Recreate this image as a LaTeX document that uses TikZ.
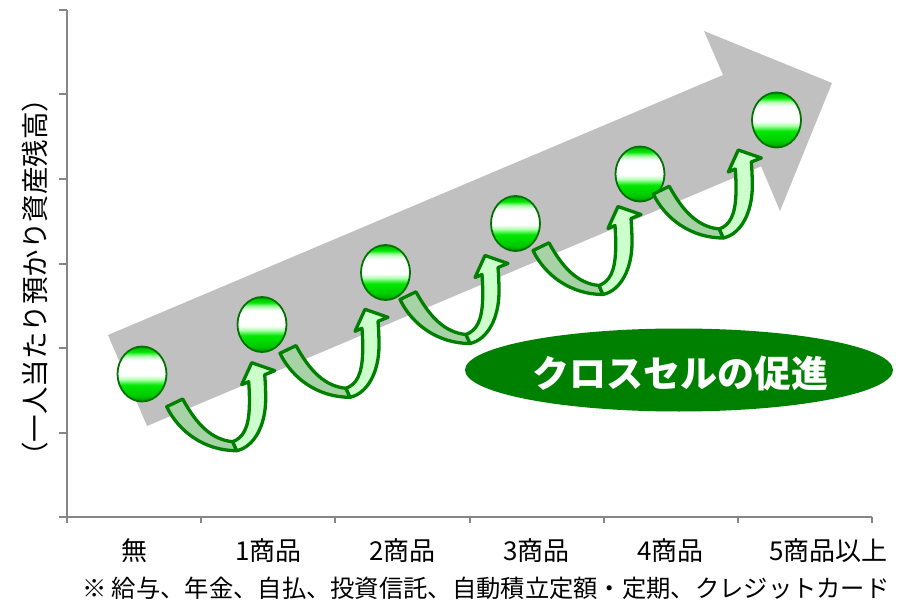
\documentclass[tikz,border=0pt]{standalone}
\usepackage{fontspec}
\newfontfamily\jp{Noto Sans CJK JP}
\usetikzlibrary{shapes.geometric}
\definecolor{arrowgray}{RGB}{192,192,192}
\definecolor{axisgray}{RGB}{134,134,134}
\definecolor{pillgreen}{RGB}{0,128,0}
\definecolor{bandline}{RGB}{0,128,0}
\definecolor{banddark}{RGB}{166,210,166}
\definecolor{bandlight}{RGB}{204,255,204}
\definecolor{balledge}{RGB}{0,115,0}
\definecolor{gdk}{RGB}{0,140,0}
\definecolor{gmid}{RGB}{0,200,0}
\definecolor{gbr}{RGB}{0,232,0}
\definecolor{gpale}{RGB}{175,255,175}
\pgfdeclareverticalshading{ballshade}{100bp}{color(0bp)=(gdk); color(25bp)=(gdk); color(30bp)=(gmid); color(40bp)=(gbr); color(45bp)=(gpale); color(49bp)=(white); color(62.5bp)=(white); color(66.5bp)=(gpale); color(70bp)=(gbr); color(73bp)=(gmid); color(75bp)=(gdk); color(100bp)=(gdk)}
\tikzset{
  axisline/.style={draw=axisgray, line width=2pt},
  ball/.style={ellipse, draw=balledge, line width=1.8pt, shading=ballshade, minimum width=49pt, minimum height=55pt, inner sep=0pt},
  catlabel/.style={font=\jp\fontsize{26pt}{30pt}\selectfont, inner sep=0pt},
  bandstyle/.style={draw=bandline, line width=3.3pt, line join=round},
  cxarrow/.pic={
    \filldraw[bandstyle, fill=banddark] (0,0) .. controls (12,25) and (38,44) .. (70,44) -- (66,35) .. controls (45,33) and (30,18) .. (16,-7.7) -- cycle;
    \filldraw[bandstyle, fill=bandlight] (70,44) .. controls (88,40) and (99,18) .. (99,-8) .. controls (99,-18) and (98.5,-26) .. (98,-32) -- (108,-36) -- (85,-44) -- (75,-22) -- (82,-25) .. controls (83,-10) and (84,12) .. (78,24) .. controls (75,30) and (71,33) .. (66,35) -- cycle;
  }
}
\begin{document}
\begin{tikzpicture}[x=1pt, y=-1pt]
\useasboundingbox (0,0) rectangle (911,607);
% big gray arrow
\fill[arrowgray] (108,335) -- (723,75) -- (704,31) -- (832,83) -- (780,211) -- (761.1,166.3) -- (147,426) -- cycle;
% axes
\draw[axisline] (67,10) -- (67,517) -- (872,517);
\foreach \k in {0,...,6} {
  \draw[axisline] (59,{10+84.5*\k}) -- (67,{10+84.5*\k});
  \draw[axisline] ({67+134.17*\k},517) -- ({67+134.17*\k},523);
}
% axis labels
\node[catlabel] (l0) at (134.5,551) {無};
\node[catlabel] (l1) at (268.5,551) {1商品};
\node[catlabel] (l2) at (402.5,551) {2商品};
\node[catlabel] (l3) at (536.5,551) {3商品};
\node[catlabel] (l4) at (670.5,551) {4商品};
\node[catlabel, anchor=west] (l5) at (769,551) {5商品以上};
\node[font=\jp\fontsize{24.3pt}{28pt}\selectfont, inner sep=0pt, anchor=west] (note) at (82,588) {※ 給与、年金、自払、投資信託、自動積立定額・定期、クレジットカード};
\node[font=\jp\fontsize{27.5pt}{30pt}\selectfont, inner sep=0pt, rotate=90] (ylab) at (35,277) {（一人当たり預かり資産残高）};
% circles
\node[ball] (c1) at (142,374) {};
\node[ball] (c2) at (262,324.5) {};
\node[ball] (c3) at (385.5,272.5) {};
\node[ball] (c4) at (515.5,223.5) {};
\node[ball] (c5) at (640,174) {};
\node[ball] (c6) at (776.5,120) {};
% curved arrows
\pic (a1) at (166.7,406.7) {cxarrow};
\pic (a2) at (280,353.3) {cxarrow};
\pic (a3) at (400,299.5) {cxarrow};
\pic (a4) at (533,250.5) {cxarrow};
\pic (a5) at (653.3,194) {cxarrow};
% green pill
\node[ellipse, fill=pillgreen, minimum width=428pt, minimum height=83pt, inner sep=0pt] (pill) at (679,370) {};
\node[font=\jp\bfseries\fontsize{37pt}{40pt}\selectfont, text=white, inner sep=0pt] (pilltext) at (680,373) {クロスセルの促進};
\end{tikzpicture}
\end{document}
